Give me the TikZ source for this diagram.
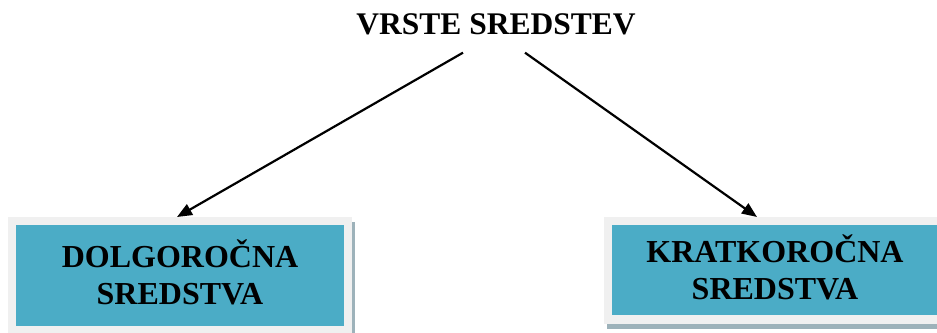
\documentclass[tikz,border=0pt]{standalone}
\usepackage{fontspec}
\setmainfont{Liberation Serif}
\usetikzlibrary{arrows.meta,shadows}
\definecolor{boxfill}{HTML}{4BACC6}
\definecolor{boxframe}{HTML}{F0F0F0}
\definecolor{boxshadow}{HTML}{9DB2BA}

\begin{document}
\begin{tikzpicture}[
  x=1pt, y=1pt,
  >={Triangle[length=15pt,width=12pt]},
  title/.style={font=\fontsize{31.5}{36}\selectfont\bfseries, inner sep=0pt, anchor=base},
  group/.style={fill=boxfill, draw=boxframe, line width=8pt, align=center, font=\fontsize{32}{37}\selectfont\bfseries,
    drop shadow={shadow xshift=3pt, shadow yshift=-5.5pt, fill=boxshadow, draw=boxshadow, line width=8pt, opacity=1}},
  arrow/.style={->, line width=2.2pt}
]
\useasboundingbox (0,0) rectangle (937,332);

\node[title] (title) at (496,297) {VRSTE SREDSTEV};
% the caron is kept out of the line height so both lines sit centred
\node[group, minimum width=336pt, minimum height=109pt] (dolg) at (180,56.5) {DOLGORO\smash{Č}NA\\SREDSTVA};
\node[group, minimum width=334pt, minimum height=98.5pt] (krat) at (775,61.75) {KRATKORO\smash{Č}NA\\SREDSTVA};

\draw[arrow] ([xshift=-33pt,yshift=-17pt]title.south) -- ([xshift=-3pt]dolg.north);
\draw[arrow] ([xshift=29pt,yshift=-17pt]title.south) -- ([xshift=-18pt]krat.north);
\end{tikzpicture}
\end{document}
